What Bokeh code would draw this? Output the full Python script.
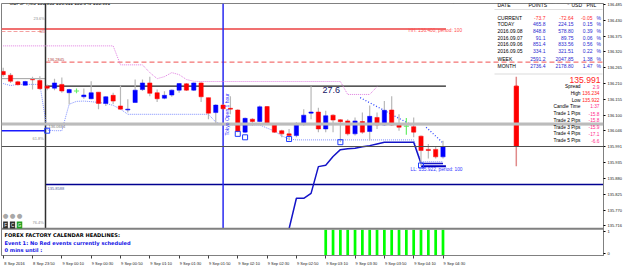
from math import pi
from bokeh.plotting import figure
from bokeh.models import (Range1d, FixedTicker, CustomJSTickFormatter, Span, Label,
                          BoxAnnotation)
from bokeh.embed import file_html
from bokeh.resources import INLINE

# ---------------- data ----------------
header_text = "GBPJPY,M5  135.955 136.011 135.949 135.991"

opens = [136.252, 136.239, 136.216, 136.204, 136.224, 136.221, 136.201, 136.194, 136.207, 136.178,
         136.184, 136.164, 136.157, 136.180, 136.141, 136.169, 136.132, 136.118, 136.144, 136.189,
         136.212, 136.178, 136.159, 136.170, 136.187, 136.209, 136.187, 136.212, 136.161, 136.109,
         136.135, 136.124, 136.118, 136.041, 136.086, 136.078, 136.130, 136.069, 136.046, 136.035,
         136.029, 136.071, 136.107, 136.111, 136.052, 136.100, 136.084, 136.080, 136.035, 136.078,
         136.043, 136.092, 136.066, 136.118, 136.069, 136.062, 136.060, 136.027, 135.981, 135.981,
         135.955]
highs = [136.265, 136.247, 136.220, 136.220, 136.234, 136.235, 136.207, 136.227, 136.231, 136.192,
         136.193, 136.193, 136.218, 136.180, 136.166, 136.178, 136.203, 136.155, 136.224, 136.224,
         136.234, 136.189, 136.183, 136.189, 136.212, 136.212, 136.214, 136.214, 136.161, 136.138,
         136.138, 136.166, 136.121, 136.092, 136.089, 136.134, 136.132, 136.069, 136.049, 136.052,
         136.075, 136.121, 136.201, 136.126, 136.115, 136.103, 136.086, 136.086, 136.092, 136.109,
         136.134, 136.109, 136.149, 136.166, 136.103, 136.090, 136.092, 136.029, 136.000, 135.989,
         136.011]
lows = [136.234, 136.212, 136.203, 136.203, 136.189, 136.189, 136.187, 136.187, 136.178, 136.138,
        136.176, 136.157, 136.155, 136.121, 136.132, 136.138, 136.121, 136.109, 136.144, 136.184,
        136.166, 136.146, 136.155, 136.164, 136.178, 136.184, 136.184, 136.146, 136.086, 136.069,
        136.121, 136.103, 136.041, 136.038, 136.063, 136.075, 136.069, 136.038, 136.023, 136.012,
        136.023, 136.063, 136.086, 136.041, 136.041, 136.041, 136.006, 136.029, 136.029, 136.035,
        136.012, 136.052, 136.063, 136.063, 136.046, 136.032, 136.023, 135.922, 135.949, 135.949,
        135.949]
closes = [136.241, 136.218, 136.206, 136.217, 136.223, 136.192, 136.194, 136.212, 136.184, 136.189,
          136.184, 136.170, 136.178, 136.141, 136.164, 136.149, 136.121, 136.121, 136.187, 136.212,
          136.176, 136.157, 136.169, 136.187, 136.210, 136.187, 136.212, 136.164, 136.107, 136.135,
          136.122, 136.121, 136.043, 136.089, 136.078, 136.129, 136.072, 136.041, 136.035, 136.029,
          136.069, 136.100, 136.111, 136.052, 136.098, 136.083, 136.077, 136.035, 136.080, 136.041,
          136.096, 136.066, 136.117, 136.066, 136.058, 136.062, 136.041, 135.977, 135.977, 135.955,
          135.991]

time_tick_idx = [0, 4, 8, 12, 16, 20, 24, 28, 32, 36, 40, 44, 48, 52, 56, 60]
time_tick_labels = ["8 Sep 2016", "8 Sep 23:50", "9 Sep 00:10", "9 Sep 00:30", "9 Sep 00:50",
                    "9 Sep 01:10", "9 Sep 01:30", "9 Sep 01:50", "9 Sep 02:10", "9 Sep 02:30",
                    "9 Sep 02:50", "9 Sep 03:10", "9 Sep 03:30", "9 Sep 03:50", "9 Sep 04:10",
                    "9 Sep 04:30"]

price_ticks = [136.485, 136.430, 136.375, 136.320, 136.265, 136.210, 136.155, 136.100,
               136.046, 135.991, 135.935, 135.880, 135.825, 135.770, 135.716]
sub_tick_prices = [135.6944, 135.6187]   # where the "1" and "0" labels of the sub-window sit

# levels
hh_level = 136.400
ll_level = 135.922
m3_level = 136.391
pivot_level = 136.2845
day_open = 136.201
prev_grey_level = 136.227
prev_blue_level = 136.046
grey_band_level = 136.069
dotted_grey_level = 136.0664
bid = 135.991
blue_level = 135.8588
panel_sep_level = 135.7047

day_sep_idx = 5.77
tokyo_idx = 30

# daily candle drawn by indicator
daily_idx = 70
daily_ohlc = [136.201, 136.234, 135.922, 135.991]

# indicator lines
pink_idx = list(range(0, 52))
pink_val = [136.341] * 16 + [136.275, 136.275, 136.275, 136.275, 136.248, 136.227, 136.234,
                             136.248, 136.241, 136.224, 136.218] + [136.217] * 20 + \
           [136.172, 136.172, 136.172, 136.172, 136.199]
lblue_idx = list(range(0, 61))
lblue_val = [136.210, 136.203, 136.207, 136.207, 136.207, 136.207, 136.048, 136.046, 136.046,
             136.138, 136.148, 136.149, 136.147, 136.144, 136.141, 136.134, 136.121] + \
            [136.103] * 12 + [136.076] + [136.066] * 6 + [136.055, 136.045, 136.028, 136.017] + \
            [136.014] * 17 + [135.938] * 4
ind_idx = list(range(39, 61))
ind_val = [135.705, 135.811, 135.811, 135.828, 135.921, 135.926, 135.956, 135.980, 135.983,
           135.985, 135.990, 135.994, 136.000, 136.006, 136.006, 136.006, 136.006, 136.006,
           135.932, 135.932, 135.932, 135.932]
diag_x0 = [48.7, 57.7]
diag_y0 = [136.161, 136.058]
diag_x1 = [56.2, 59.9]
diag_y1 = [136.059, 136.006]
sq_idx = [6, 32, 33, 39, 46, 57]
sq_val = [136.046, 136.035, 136.023, 136.017, 136.006, 135.925]

sub_idx = list(range(44, 61))
sub_val = [1] * len(sub_idx)

table_labels = ["CURRENT", "TODAY", "2016.09.08", "2016.09.07", "2016.09.06", "2016.09.05", "WEEK", "MONTH"]
table_points = ["-73.7", "465.8", "848.8", "91.1", "851.4", "334.1", "2591.2", "2736.4"]
table_usd = ["-72.64", "224.15", "578.80", "89.75", "833.56", "321.51", "2047.85", "2178.80"]
table_pct = ["-0.05", "0.15", "0.39", "0.06", "0.56", "0.22", "1.38", "1.47"]

info_labels = ["Spread", "High", "Low", "Candle Time", "Trade 1 Pips", "Trade 2 Pips",
               "Trade 3 Pips", "Trade 4 Pips", "Trade 5 Pips"]
info_values = ["2.9", "136.234", "135.922", "1:37", "-15.8", "-15.8", "-15.9", "-17.1", "-6.6"]

# ---------------- layout ----------------
W, H = 625, 268
FL, FT, FB, FR = 1, 3, 258, 603
P_TOP, P_BOT = 136.4884, 135.6119
X0 = -0.232
X1 = X0 + (FR - FL) / 7.33
SUB_END = (FB - FT) / 26.0
LABEL_SHIFT = 1.55   # time labels start just right of their tick

p = figure(width=W, height=H, output_backend="svg", toolbar_location=None,
           x_range=Range1d(X0, X1), y_range=Range1d(P_BOT, P_TOP),
           y_axis_location="right", min_border_left=FL, min_border_top=FT,
           min_border_bottom=H - FB, min_border_right=W - FR)
p.extra_y_ranges = {"sub": Range1d(0, SUB_END)}
p.xgrid.visible = False
p.ygrid.visible = False
p.outline_line_color = "#808080"
p.background_fill_color = "white"
p.border_fill_color = "white"

xa = p.xaxis[0]
xa.ticker = FixedTicker(ticks=[t + LABEL_SHIFT for t in time_tick_idx], minor_ticks=time_tick_idx)
xa.formatter = CustomJSTickFormatter(args=dict(labels=time_tick_labels, shift=LABEL_SHIFT),
                                     code="return labels[Math.round((tick - shift) / 4)];")
xa.major_label_text_font_size = "4px"
xa.major_label_text_font = "Liberation Sans"
xa.major_label_text_color = "#202020"
xa.major_label_standoff = 2
xa.major_tick_out = 0
xa.major_tick_in = 0
xa.minor_tick_out = 3
xa.minor_tick_in = 0
xa.minor_tick_line_color = "#404040"
xa.axis_line_color = "#808080"

ya = p.yaxis[0]
ya.ticker = FixedTicker(ticks=price_ticks + sub_tick_prices)
ya.formatter = CustomJSTickFormatter(code="""
if (tick < 135.70) { return tick > 135.66 ? '1' : '0'; }
return tick.toFixed(3);
""")
ya.major_label_text_font_size = "4px"
ya.major_label_text_font = "Liberation Sans"
ya.major_label_text_color = "#202020"
ya.major_label_standoff = 2
ya.major_tick_out = 2
ya.major_tick_in = 0
ya.minor_tick_out = 0
ya.minor_tick_in = 0
ya.axis_line_color = "#808080"


def lab(px, py, text, size, color, align="left", bold=False, font="Liberation Sans",
        angle=0.0, bg=None, baseline="middle", pad=0):
    p.add_layout(Label(x=px - FL, y=FB - py, x_units="screen", y_units="screen", text=text,
                       text_font=font, text_font_size=f"{size}px", text_color=color,
                       text_align=align, text_baseline=baseline, angle=angle,
                       text_font_style="bold" if bold else "normal",
                       background_fill_color=bg, padding=pad))


# ---------------- background lines ----------------
p.add_layout(Span(location=grey_band_level, dimension="width", line_color="#bcbcbc", line_width=3))
p.add_layout(Span(location=bid, dimension="width", line_color="#505050", line_width=1))
p.add_layout(Span(location=panel_sep_level, dimension="width", line_color="#808080", line_width=2))

p.segment(x0=[X0], x1=[60.4], y0=[hh_level], y1=[hh_level], line_color="#f07070", line_width=2)
p.segment(x0=[X0], x1=[day_sep_idx - 0.6], y0=[m3_level], y1=[m3_level], line_color="#f4a0a0",
          line_width=1, line_dash="4 2")
p.segment(x0=[X0], x1=[day_sep_idx], y0=[prev_grey_level], y1=[prev_grey_level],
          line_color="#a0a0a0", line_width=1)
p.segment(x0=[X0], x1=[day_sep_idx], y0=[prev_blue_level], y1=[prev_blue_level],
          line_color="#1a1aff", line_width=1.5)
p.segment(x0=[day_sep_idx], x1=[X1], y0=[pivot_level], y1=[pivot_level], line_color="#f05050",
          line_width=1, line_dash="5 3")
p.segment(x0=[day_sep_idx], x1=[60.4], y0=[day_open], y1=[day_open], line_color="#202020",
          line_width=1.2)
p.segment(x0=[day_sep_idx], x1=[X1], y0=[dotted_grey_level], y1=[dotted_grey_level],
          line_color="#909090", line_width=1, line_dash="1 1")
p.segment(x0=[day_sep_idx], x1=[X1], y0=[blue_level], y1=[blue_level], line_color="#000090",
          line_width=1.3)
p.segment(x0=[57], x1=[60.4], y0=[ll_level], y1=[ll_level], line_color="#0000c0", line_width=2)

# vertical lines (main panel only)
p.segment(x0=[day_sep_idx], x1=[day_sep_idx], y0=[panel_sep_level], y1=[P_TOP],
          line_color="#303030", line_width=1.5)
p.segment(x0=[tokyo_idx], x1=[tokyo_idx], y0=[panel_sep_level], y1=[P_TOP],
          line_color="#2a2af0", line_width=1.5)

# indicator lines
p.line(pink_idx, pink_val, line_color="#e07ee0", line_width=1, line_dash="1 1")
p.line(lblue_idx, lblue_val, line_color="#7f8fff", line_width=1, line_dash="1 1")
p.line(ind_idx, ind_val, line_color="#1414c8", line_width=1.5)
p.segment(x0=diag_x0, y0=diag_y0, x1=diag_x1, y1=diag_y1, line_color="#3048ff",
          line_width=1.3, line_dash="1 2")

# ---------------- candles ----------------
idx = list(range(len(opens)))
up_x, up_t, up_b, dn_x, dn_t, dn_b, dj_x, dj_y = [], [], [], [], [], [], [], []
wick_col = []
for i, (o, c) in enumerate(zip(opens, closes)):
    if c > o:
        up_x.append(i); up_t.append(c); up_b.append(o); wick_col.append("#b8b8b8")
    elif c < o:
        dn_x.append(i); dn_t.append(o); dn_b.append(c); wick_col.append("#b8b8b8")
    else:
        dj_x.append(i); dj_y.append(c); wick_col.append("#66ee66")

p.segment(x0=idx, x1=idx, y0=lows, y1=highs, line_color=wick_col, line_width=1.2)
p.vbar(x=up_x, top=up_t, bottom=up_b, width=0.58, fill_color="#0000ff", line_color="#0000ff",
       line_width=0.5)
p.vbar(x=dn_x, top=dn_t, bottom=dn_b, width=0.58, fill_color="#ff0000", line_color="#ff0000",
       line_width=0.5)
p.segment(x0=[x - 0.35 for x in dj_x], x1=[x + 0.35 for x in dj_x], y0=dj_y, y1=dj_y,
          line_color="#66ee66", line_width=1.2)

p.scatter(sq_idx, sq_val, marker="square", size=5, fill_color=None, line_color="#1e3cff",
          line_width=1)

# daily candle
p.segment(x0=[daily_idx], x1=[daily_idx], y0=[daily_ohlc[2]], y1=[daily_ohlc[1]],
          line_color="#e08a8a", line_width=1.5)
p.vbar(x=[daily_idx], top=[daily_ohlc[0]], bottom=[daily_ohlc[3]], width=0.55,
       fill_color="#ff0000", line_color="#ff0000")

# sub-window histogram
p.vbar(x=sub_idx, top=sub_val, bottom=0, width=0.37, fill_color="#00ff00", line_color=None,
       y_range_name="sub")

# ---------------- texts ----------------
lab(9, 5.8, header_text, 4.8, "#000000")
lab(453, 4.2, "\u25bc", 4, "#000000", align="center", font="DejaVu Sans")

lab(33, 20.5, "23.6%", 4, "#909090")
lab(39, 33.5, "M3", 4, "#d06060")
lab(47, 61.8, "136.2845", 4, "#b04040")
lab(48, 129, "136.0664", 4, "#808080")
lab(32, 141, "61.8%", 4, "#909090")
lab(47, 191, "135.8588", 4, "#5060a0")
lab(32, 225, "76.4%", 4, "#909090")

# trade-panel buttons at bottom-left
for bx in (5, 12, 19):
    lab(bx, 218, "\u25cf", 6.5, "#a8a8a8", align="center", font="DejaVu Sans")
for bx, ch, bg in ((5, "F", "#303030"), (12, "C", "#303030"), (19, "G", "#22a022")):
    lab(bx, 227.5, ch, 4.5, "#ffffff", align="center", bg=bg, pad=1)

lab(408, 32.5, "HH: 136.400, period: 100", 4.8, "#ff5050")
lab(410, 172, "LL: 135.922, period: 100", 4.8, "#3333ff")
lab(322, 92.5, "27.6", 9, "#141466")
lab(226.5, 138, "Tokyo Open 1 hour", 5, "#3030ff", angle=pi / 2)

# sub-window text
lab(4, 237.7, "FOREX FACTORY CALENDAR  HEADLINES:", 5.1, "#000000", bold=True, font="DejaVu Sans")
lab(4, 245.5, "Event 1: No Red events currently scheduled", 5.1, "#1414e6", bold=True,
    font="DejaVu Sans")
lab(4, 252.7, "0 mins until :", 5.1, "#1414e6", bold=True, font="DejaVu Sans")

# price boxes on the axis
lab(604, 123.8, "136.069", 4, "#ffffff", bg="#000000")
lab(604, 148.3, "135.991", 4, "#ffffff", bg="#000000")

# statistics table
lab(497, 7, "DATE", 5, "#000000")
lab(528, 7, "POINTS", 5, "#000000")
lab(541, 4.8, "London Trading Ex 1.0", 4, "#606060")
lab(571, 7, "USD", 5, "#000000")
lab(586, 7, "PNL", 5, "#000000")
for k, (t, pt, usd, pc) in enumerate(zip(table_labels, table_points, table_usd, table_pct)):
    yy = 20 + k * 6.68 + (1.6 if k >= 6 else 0)
    col = "#ff2a2a" if k == 0 else "#2a2ad0"
    lab(497, yy, t, 5, "#000000")
    lab(545, yy, pt, 5, col, align="right")
    lab(573, yy, usd, 5, col, align="right")
    lab(592, yy, pc, 5, col, align="right")
    lab(596, yy, "%", 5, "#2a2ad0")

for yy in (12, 76.5):
    p.add_layout(BoxAnnotation(left=494 - FL, right=602 - FL, top=FB - yy, bottom=FB - yy,
                               left_units="screen", right_units="screen", top_units="screen",
                               bottom_units="screen", fill_alpha=0, line_color="#909090",
                               line_dash="1 1", line_width=1))

# info block
lab(600, 82.3, "135.991", 8.6, "#ff1e1e", align="right")
for k, (t, v) in enumerate(zip(info_labels, info_values)):
    yy = 89 + k * 6.75
    vcol = "#ff2020" if t in ("High", "Low") else "#ff2a8a"
    lab(580, yy, t, 4.8, "#000000", align="right")
    lab(599, yy, v, 4.8, vcol, align="right")

open("out.html", "w").write(file_html(p, INLINE))
